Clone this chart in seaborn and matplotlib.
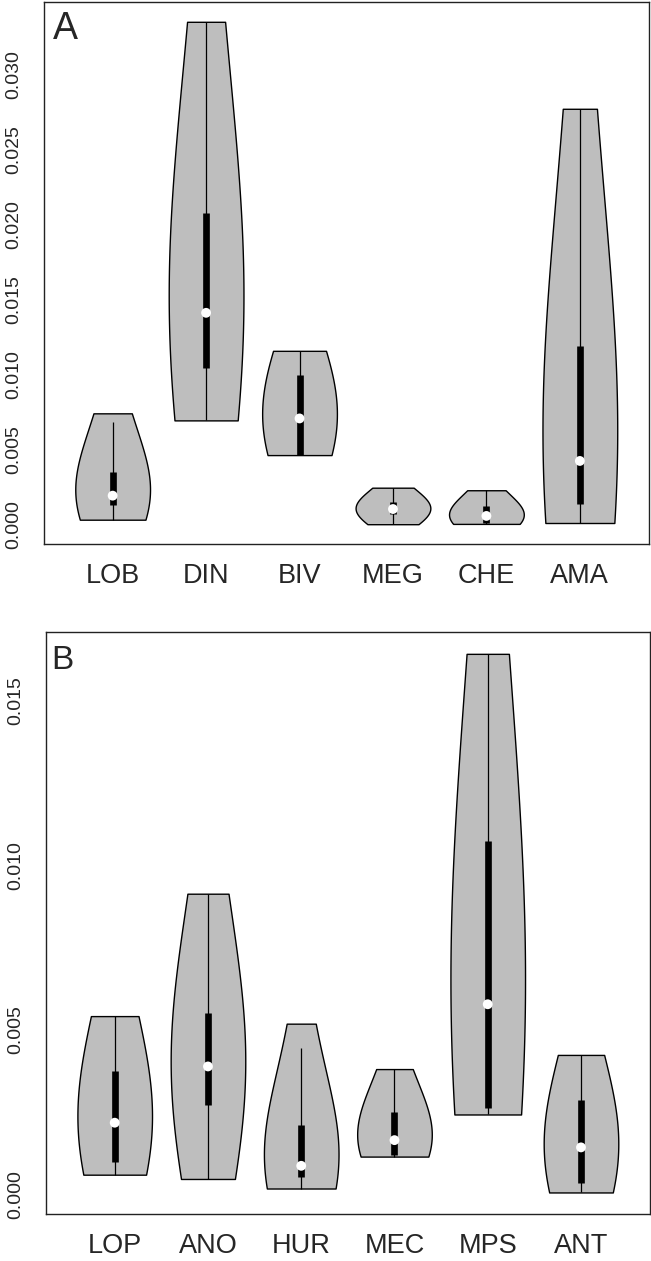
import numpy as np
import pandas as pd
import matplotlib
matplotlib.use("Agg")
import matplotlib.pyplot as plt
import seaborn as sns

# ------- data -------
groups_a = ["LOB", "DIN", "BIV", "MEG", "CHE", "AMA"]
lob = [0.00035, 0.0007, 0.001, 0.00133, 0.0015, 0.0017, 0.00195, 0.0024, 0.0029, 0.00355, 0.0058, 0.0070, 0.00743]
din = [0.00696, 0.0082, 0.0094, 0.01046, 0.0117, 0.0129, 0.01412, 0.0162, 0.0184, 0.02079, 0.0255, 0.0305, 0.03349]
biv = [0.00465, 0.00466, 0.00467, 0.00468, 0.0056, 0.0064, 0.00709, 0.0080, 0.0093, 0.00999, 0.0108, 0.0113, 0.01159]
meg = [0.00005, 0.0003, 0.0005, 0.00071, 0.0009, 0.001, 0.00106, 0.0012, 0.0014, 0.00155, 0.0018, 0.0021, 0.00248]
che = [0.00007, 0.0001, 0.00012, 0.00015, 0.0003, 0.00045, 0.0006, 0.0008, 0.001, 0.00128, 0.0016, 0.002, 0.00231]
ama = [0.00013, 0.0006, 0.001, 0.00142, 0.0024, 0.0033, 0.00426, 0.0062, 0.0088, 0.01192, 0.018, 0.024, 0.0277]

groups_b = ["LOP", "ANO", "HUR", "MEC", "MPS", "ANT"]
lop = [0.0006, 0.0008, 0.0009, 0.001, 0.0014, 0.0018, 0.00218, 0.0027, 0.0033, 0.00376, 0.0047, 0.0052, 0.00542]
ano = [0.00047, 0.0013, 0.002, 0.00272, 0.0031, 0.0035, 0.00389, 0.0044, 0.005, 0.00551, 0.0068, 0.0082, 0.00914]
hur = [0.00018, 0.0003, 0.0004, 0.00053, 0.0006, 0.0007, 0.00087, 0.0012, 0.0016, 0.0021, 0.0031, 0.0040, 0.00519]
mec = [0.00115, 0.00117, 0.00118, 0.0012, 0.0014, 0.0015, 0.00165, 0.0019, 0.0022, 0.0025, 0.0029, 0.0034, 0.00381]
mps = [0.00243, 0.0025, 0.00255, 0.00262, 0.0036, 0.0047, 0.00578, 0.0072, 0.009, 0.01075, 0.0128, 0.015, 0.01643]
ant = [0.00006, 0.0001, 0.0002, 0.00035, 0.0007, 0.001, 0.00143, 0.0018, 0.0023, 0.00286, 0.0034, 0.0039, 0.00424]

ticks_a = [0.000, 0.005, 0.010, 0.015, 0.020, 0.025, 0.030]
ticks_b = [0.000, 0.005, 0.010, 0.015]
# --------------------------------------------------


def long_df(names, arrays):
    rows = []
    for n, vals in zip(names, arrays):
        for v in vals:
            rows.append((n, v))
    return pd.DataFrame(rows, columns=["group", "value"])


def vio_panel(ax, names, arrays, yticks, letter, letter_size, letter_off):
    df = long_df(names, arrays)
    sns.violinplot(data=df, x="group", y="value", order=names, ax=ax,
                   color="#bebebe", saturation=1, linecolor="black", linewidth=1,
                   inner=None, cut=0, density_norm="width", width=0.8, bw_adjust=2.4)

    # vioplot style inner box: whisker line, thick IQR bar, white median dot
    for i, vals in enumerate(arrays):
        v = np.asarray(vals)
        q1, med, q3 = np.percentile(v, [25, 50, 75])
        iqr = q3 - q1
        lo = max(q1 - 1.5 * iqr, v.min())
        hi = min(q3 + 1.5 * iqr, v.max())
        ax.vlines(i, lo, hi, color="black", lw=0.9, zorder=3)
        ax.vlines(i, q1, q3, color="black", lw=4.8, zorder=4)
        ax.scatter([i], [med], s=50, color="white", edgecolor="none", zorder=5)

    allv = np.concatenate([np.asarray(a) for a in arrays])
    mn, mx = allv.min(), allv.max()
    pad = 0.04 * (mx - mn)
    ax.set_ylim(mn - pad, mx + pad)
    ax.set_xlim(-0.74, len(names) - 0.26)

    ax.set_yticks(yticks)
    ax.set_yticklabels([f"{t:.3f}" for t in yticks], rotation=90, va="center", fontsize=14)
    ax.tick_params(axis="y", length=8.4, width=0.9, pad=7, color="#222222")
    ax.tick_params(axis="x", length=8.6, width=0.9, pad=5, labelsize=19.5, color="#222222")
    ax.set_xlabel("")
    ax.set_ylabel("")
    for s in ax.spines.values():
        s.set_visible(True)
        s.set_linewidth(1.0)
        s.set_color("#222222")

    ax.annotate(letter, xy=(0, 1), xycoords="axes fraction", xytext=letter_off,
                textcoords="offset pixels", ha="left", va="top", fontsize=letter_size)


sns.set_theme(style="white")
plt.rcParams["font.family"] = ["Liberation Sans", "DejaVu Sans"]

W, H = 651, 1261
fig = plt.figure(figsize=(W / 100, H / 100), dpi=100)
ax_a = fig.add_axes([43.5 / W, 1 - 544.3 / H, (649 - 43.5) / W, (544.3 - 1.7) / H])
ax_b = fig.add_axes([45.7 / W, 1 - 1214 / H, (650 - 45.7) / W, (1214 - 632.3) / H])

vio_panel(ax_a, groups_a, [lob, din, biv, meg, che, ama], ticks_a, "A", 27, (9, -9))
vio_panel(ax_b, groups_b, [lop, ano, hur, mec, mps, ant], ticks_b, "B", 24, (6, -13))

fig.savefig("out.png", dpi=100)
